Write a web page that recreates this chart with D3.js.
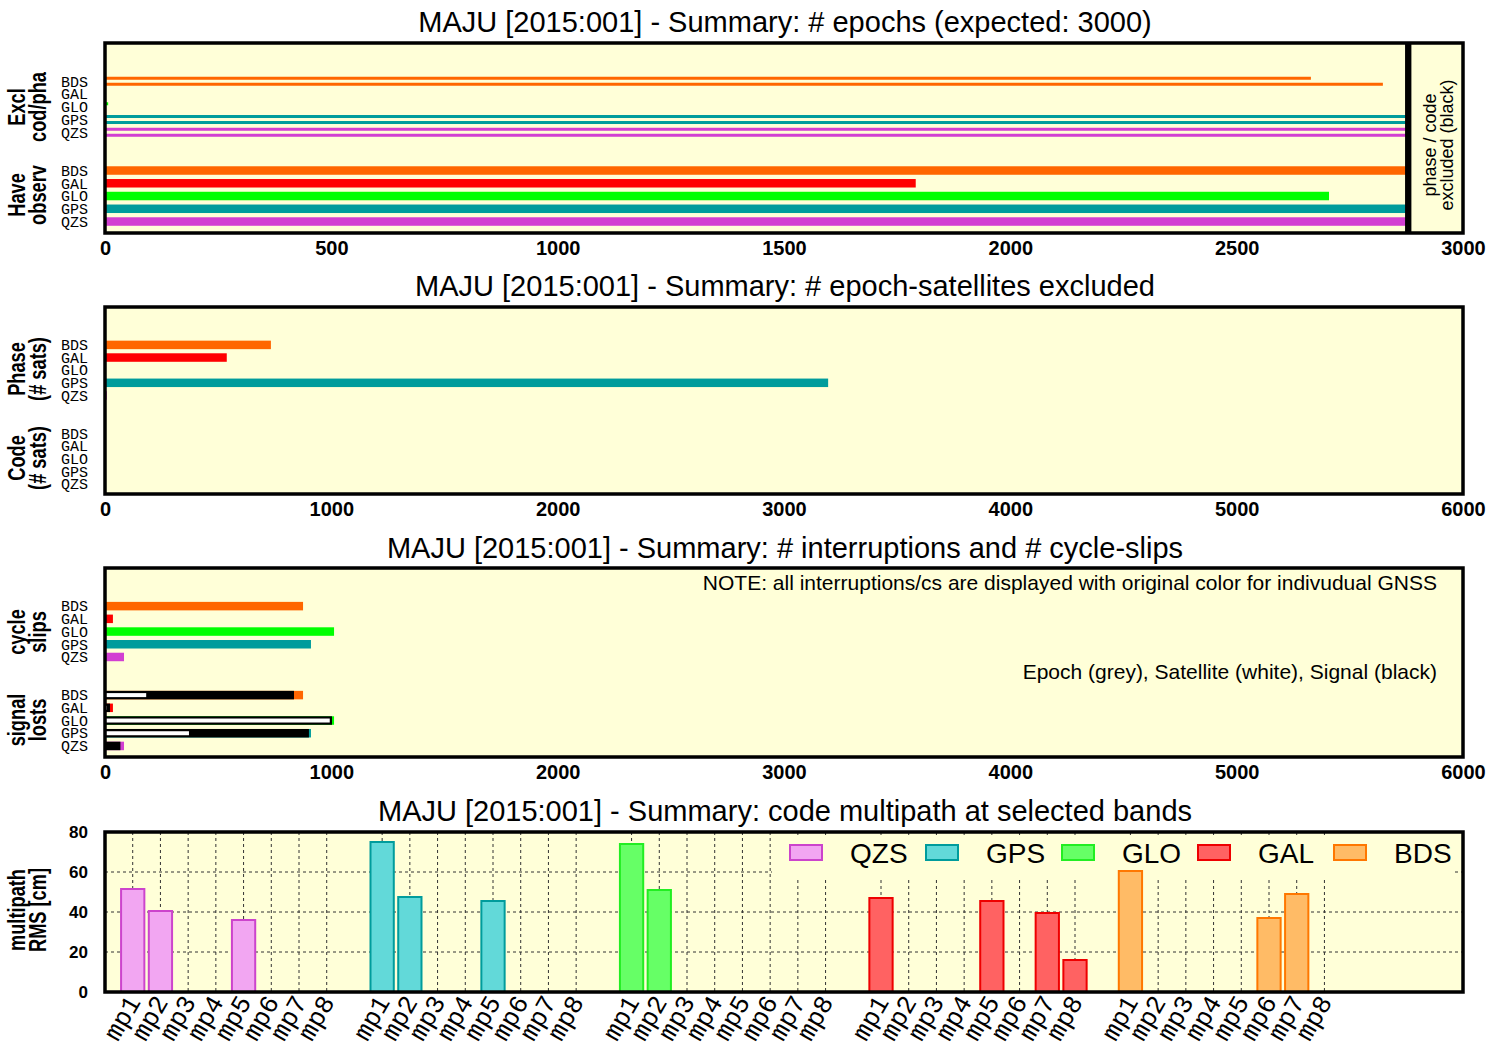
<!DOCTYPE html>
<html>
<head>
<meta charset="utf-8">
<script src="https://cdn.jsdelivr.net/npm/d3@7"></script>
<style>
  body { margin: 0; background: #fff; }
  text { font-family: 'Liberation Sans', Arial, sans-serif; }
  text.mono { font-family: 'Liberation Mono', 'Courier New', monospace; }
</style>
</head>
<body>
<script>
// ---- data ----
const station = 'MAJU [2015:001]';
const systems = ['BDS', 'GAL', 'GLO', 'GPS', 'QZS'];
const sysColors = ['#ff6600', '#ff0000', '#00ff00', '#009c9c', '#d23fd2'];

// panel 1: # epochs (expected 3000)
const exclPhase = [2664, 0, 7, 2878, 2878];
const exclCode = [2823, 0, 0, 2878, 2878];
const haveObs = [2878, 1791, 2704, 2878, 2878];
const excludedBand = [2872, 2886];
const ticks1 = [0, 500, 1000, 1500, 2000, 2500, 3000];

// panel 2: # epoch-satellites excluded
const phaseSats = [733, 538, 4, 3195, 8];
const codeSats = [0, 0, 0, 0, 0];
const ticks2 = [0, 1000, 2000, 3000, 4000, 5000, 6000];

// panel 3: interruptions and cycle-slips
const cycleSlips = [875, 35, 1012, 910, 84];
const lostTotal = [875, 35, 1012, 910, 84];
const lostSignal = [835, 22, 1003, 901, 68];
const lostSatellite = [182, 8, 993, 371, 0];
const lostEpoch = [0, 0, 0, 0, 0];

// panel 4: code multipath RMS [cm]
const mpLabels = ['mp1', 'mp2', 'mp3', 'mp4', 'mp5', 'mp6', 'mp7', 'mp8'];
const mpSystems = ['QZS', 'GPS', 'GLO', 'GAL', 'BDS'];
const mpFill = ['#f2a6f2', '#62d9d9', '#66ff66', '#ff6262', '#ffbb66'];
const mpStroke = ['#cc44cc', '#009c9c', '#22ee22', '#ee0000', '#ff7700'];
const qzsMp = [51.5, 40.5, null, null, 36, null, null, null];
const gpsMp = [75, 47.5, null, null, 45.5, null, null, null];
const gloMp = [74, 51, null, null, null, null, null, null];
const galMp = [47, null, null, null, 45.5, null, 39.5, 16];
const bdsMp = [60.5, null, null, null, null, 37, 49, null];
const mpValues = [qzsMp, gpsMp, gloMp, galMp, bdsMp];
const ticks4y = [0, 20, 40, 60, 80];

// ---- layout ----
const w = 1500;
const h = 1050;
const left = 105;
const right = 1463;
const bg = '#ffffd8';

const svg = d3.select('body').append('svg').attr('width', w).attr('height', h);

const title = (txt, y) =>
  svg.append('text').attr('x', 785).attr('y', y).attr('text-anchor', 'middle')
    .style('font-size', '29px').text(txt);

const sideLabel = (lines, cy) => {
  const g = svg.append('g');
  lines.forEach((t, i) => {
    g.append('text')
      .attr('transform', `translate(${[25, 46][i]},${cy}) rotate(-90) scale(0.76,1)`)
      .attr('text-anchor', 'middle')
      .style('font-size', '24px').style('font-weight', 'bold').text(t);
  });
};

const rowLabels = (rowY, offset) => {
  systems.forEach((s, i) => {
    svg.append('text').attr('class', 'mono').attr('x', 88).attr('y', rowY(i + offset))
      .attr('dy', '0.35em').attr('text-anchor', 'end').style('font-size', '15px').text(s);
  });
};

const background = (top, bottom) =>
  svg.append('rect').attr('x', left).attr('y', top).attr('width', right - left)
    .attr('height', bottom - top).attr('fill', bg);

const frame = (top, bottom) =>
  svg.append('rect').attr('x', left).attr('y', top).attr('width', right - left)
    .attr('height', bottom - top).attr('fill', 'none').attr('stroke', '#000').attr('stroke-width', 3.5);

const xAxis = (x, tickVals, bottom) => {
  const g = svg.append('g').attr('transform', `translate(0,${bottom})`)
    .call(d3.axisBottom(x).tickValues(tickVals).tickSize(0).tickPadding(8).tickFormat(d3.format('d')));
  g.select('.domain').remove();
  g.selectAll('text').style('font-size', '20px').style('font-weight', 'bold')
    .style('font-family', "'Liberation Sans', Arial, sans-serif").attr('fill', '#000');
};

const hbars = (x, rowY, values, offset, thick, shift, colors) => {
  svg.append('g').selectAll('rect').data(values).join('rect')
    .attr('x', x(0))
    .attr('y', (d, i) => rowY(i + offset) + shift - thick / 2)
    .attr('width', (d) => x(d) - x(0))
    .attr('height', thick)
    .attr('fill', (d, i) => (typeof colors === 'string' ? colors : colors[i]));
};

// ---- panel 1 ----
{
  const top = 43, bottom = 233;
  const x = d3.scaleLinear().domain([0, 3000]).range([left, right]);
  const rowY = d3.scaleLinear().domain([-3, 11.9]).range([top, bottom]);
  title(`${station} - Summary: # epochs (expected: 3000)`, 32);
  background(top, bottom);
  hbars(x, rowY, exclPhase, 0, 3, -3, sysColors);
  hbars(x, rowY, exclCode, 0, 3, 3, sysColors);
  hbars(x, rowY, haveObs, 7, 8.5, 0, sysColors);
  svg.append('rect').attr('x', x(excludedBand[0])).attr('y', top)
    .attr('width', x(excludedBand[1]) - x(excludedBand[0])).attr('height', bottom - top).attr('fill', '#000');
  ['phase / code', 'excluded (black)'].forEach((t, i) => {
    svg.append('text').attr('transform', `translate(${[1436, 1453][i]},145) rotate(-90)`)
      .attr('text-anchor', 'middle').style('font-size', '18px').text(t);
  });
  frame(top, bottom);
  rowLabels(rowY, 0);
  rowLabels(rowY, 7);
  sideLabel(['Excl', 'cod/pha'], 107);
  sideLabel(['Have', 'observ'], 195);
  xAxis(x, ticks1, bottom);
}

// ---- panel 2 ----
{
  const top = 307, bottom = 494;
  const x = d3.scaleLinear().domain([0, 6000]).range([left, right]);
  const rowY = d3.scaleLinear().domain([-3, 11.8]).range([top, bottom]);
  title(`${station} - Summary: # epoch-satellites excluded`, 296);
  background(top, bottom);
  hbars(x, rowY, phaseSats, 0, 8.5, 0, sysColors);
  hbars(x, rowY, codeSats, 7, 8.5, 0, sysColors);
  frame(top, bottom);
  rowLabels(rowY, 0);
  rowLabels(rowY, 7);
  sideLabel(['Phase', '(# sats)'], 369);
  sideLabel(['Code', '(# sats)'], 458);
  xAxis(x, ticks2, bottom);
}

// ---- panel 3 ----
{
  const top = 568, bottom = 757;
  const x = d3.scaleLinear().domain([0, 6000]).range([left, right]);
  const rowY = d3.scaleLinear().domain([-3, 11.87]).range([top, bottom]);
  title(`${station} - Summary: # interruptions and # cycle-slips`, 558);
  background(top, bottom);
  hbars(x, rowY, cycleSlips, 0, 8.5, 0, sysColors);
  hbars(x, rowY, lostTotal, 7, 8.5, 0, sysColors);
  hbars(x, rowY, lostSignal, 7, 8.5, 0, '#000');
  hbars(x, rowY, lostSatellite, 7, 4, 0, '#fff');
  hbars(x, rowY, lostEpoch, 7, 4, 0, '#999');
  svg.append('text').attr('x', 1437).attr('y', 590).attr('text-anchor', 'end').style('font-size', '21px')
    .text('NOTE: all interruptions/cs are displayed with original color for indivudual GNSS');
  svg.append('text').attr('x', 1437).attr('y', 679).attr('text-anchor', 'end').style('font-size', '21px')
    .text('Epoch (grey), Satellite (white), Signal (black)');
  frame(top, bottom);
  rowLabels(rowY, 0);
  rowLabels(rowY, 7);
  sideLabel(['cycle', 'slips'], 632);
  sideLabel(['signal', 'losts'], 720);
  xAxis(x, ticks2, bottom);
}

// ---- panel 4 ----
{
  const top = 832, bottom = 992;
  const x = d3.scaleLinear().domain([-1, 48]).range([left, right]);
  const y = d3.scaleLinear().domain([0, 80]).range([bottom, top]);
  title(`${station} - Summary: code multipath at selected bands`, 821);
  background(top, bottom);

  const cats = [];
  mpSystems.forEach((s, si) => mpLabels.forEach((m, mi) => cats.push(si * 9 + mi)));

  const grid = svg.append('g').attr('stroke', '#333').attr('stroke-width', 1).attr('stroke-dasharray', '3,3');
  grid.selectAll('.v').data(cats).join('line').attr('class', 'v')
    .attr('x1', (d) => x(d)).attr('x2', (d) => x(d)).attr('y1', top).attr('y2', bottom);
  grid.selectAll('.hz').data(ticks4y.slice(1, 4)).join('line').attr('class', 'hz')
    .attr('x1', left).attr('x2', right).attr('y1', (d) => y(d)).attr('y2', (d) => y(d));

  // legend box hides the grid, bars are drawn over it
  svg.append('rect').attr('x', 772).attr('y', 835).attr('width', 682).attr('height', 44).attr('fill', bg);

  const bars = [];
  mpValues.forEach((vals, si) => vals.forEach((v, mi) => {
    if (v !== null) bars.push({ i: si * 9 + mi, v, si });
  }));
  svg.append('g').selectAll('rect').data(bars).join('rect')
    .attr('x', (d) => x(d.i - 0.42)).attr('y', (d) => y(d.v))
    .attr('width', (d) => x(d.i + 0.42) - x(d.i - 0.42)).attr('height', (d) => y(0) - y(d.v))
    .attr('fill', (d) => mpFill[d.si]).attr('stroke', (d) => mpStroke[d.si]).attr('stroke-width', 2);

  mpSystems.forEach((s, i) => {
    const lx = 790 + i * 136;
    svg.append('rect').attr('x', lx).attr('y', 845).attr('width', 32).attr('height', 15)
      .attr('fill', mpFill[i]).attr('stroke', mpStroke[i]).attr('stroke-width', 2);
    svg.append('text').attr('x', lx + 60).attr('y', 863).style('font-size', '28px').text(s);
  });

  frame(top, bottom);

  const ya = svg.append('g').attr('transform', `translate(${left},0)`)
    .call(d3.axisLeft(y).tickValues(ticks4y).tickSize(0).tickPadding(17));
  ya.select('.domain').remove();
  ya.selectAll('text').style('font-size', '17px').style('font-weight', 'bold')
    .style('font-family', "'Liberation Sans', Arial, sans-serif").attr('fill', '#000');

  const xa = svg.append('g').attr('transform', `translate(0,${bottom})`)
    .call(d3.axisBottom(x).tickValues(cats).tickSize(0).tickFormat((d) => mpLabels[d % 9]));
  xa.select('.domain').remove();
  xa.selectAll('text').attr('class', 'mono').attr('y', 0).attr('dy', 0)
    .attr('text-anchor', 'end').attr('transform', 'translate(8,10) rotate(-60)')
    .style('font-size', '26px').attr('fill', '#000');

  sideLabel(['multipath', 'RMS [cm]'], 910);
}
</script>
</body>
</html>
